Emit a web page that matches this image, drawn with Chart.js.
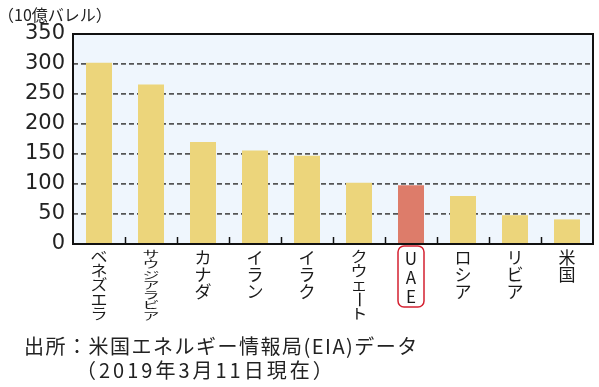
<!DOCTYPE html>
<html>
<head>
<meta charset="utf-8">
<script src="https://cdn.jsdelivr.net/npm/chart.js@4"></script>
<style>
  html, body { margin: 0; padding: 0; background: #fff; }
  #wrap { position: relative; width: 599px; height: 387px; }
</style>
</head>
<body>
<div id="wrap"><canvas id="oilChart" width="599" height="387"></canvas></div>
<script>
const countries = ["ベネズエラ", "サウジアラビア", "カナダ", "イラン", "イラク", "クウェート", "UAE", "ロシア", "リビア", "米国"];
const reserves = [302, 266, 170, 156, 147, 102, 98, 80, 48, 41];
const yTicks = [0, 50, 100, 150, 200, 250, 300, 350];
const unitLabel = "（10億バレル）";
const sourceLines = ["出所：米国エネルギー情報局(EIA)データ", "（2019年3月11日現在）"];
const highlight = "UAE";

const JP = "'Noto Sans CJK JP', 'Noto Sans', sans-serif";
const barColors = countries.map((c) => (c === highlight ? "#dd7c6a" : "#ecd57b"));

// plot frame, background, bottom tick marks, vertical labels and notes
const decor = {
  id: "decor",
  beforeDraw(chart) {
    const { ctx, chartArea: a } = chart;
    ctx.save();
    ctx.fillStyle = "#eff6fd";
    ctx.fillRect(a.left, a.top, a.right - a.left, a.bottom - a.top);
    ctx.restore();
  },
  afterDatasetsDraw(chart) {
    const { ctx, chartArea: a, scales } = chart;
    const x = scales.x;
    ctx.save();
    ctx.strokeStyle = "#111";
    ctx.lineWidth = 2;
    ctx.strokeRect(a.left, a.top, a.right - a.left, a.bottom - a.top);
    ctx.lineWidth = 1.5;
    for (let i = 1; i < countries.length; i++) {
      const px = Math.round((x.getPixelForValue(i - 1) + x.getPixelForValue(i)) / 2) + 0.5;
      ctx.beginPath();
      ctx.moveTo(px, a.bottom);
      ctx.lineTo(px, a.bottom - 7);
      ctx.stroke();
    }

    // vertical category labels
    ctx.fillStyle = "#1a1a1a";
    ctx.textAlign = "center";
    ctx.textBaseline = "middle";
    ctx.font = "17px " + JP;
    countries.forEach((name, i) => {
      const cx = x.getPixelForValue(i);
      const chars = Array.from(name);
      const step = name === highlight ? 19 : Math.min(17, 72 / chars.length);
      const sy = name === highlight ? 1 : step / 17;
      const top = a.bottom + 5;
      chars.forEach((ch, k) => {
        const cy = top + step * k + step / 2;
        ctx.save();
        ctx.translate(cx, cy);
        if (ch === "ー") {
          ctx.rotate(Math.PI / 2);
        } else {
          ctx.scale(1, sy);
        }
        ctx.fillText(ch, 0, 0);
        ctx.restore();
      });
      if (name === highlight) {
        const h = step * chars.length + 4;
        ctx.save();
        ctx.strokeStyle = "#d42030";
        ctx.lineWidth = 1.5;
        ctx.beginPath();
        ctx.roundRect(cx - 13, top - 3, 26, h, 6);
        ctx.stroke();
        ctx.restore();
      }
    });

    // unit and source notes
    ctx.textAlign = "left";
    ctx.textBaseline = "middle";
    ctx.fillStyle = "#222";
    ctx.font = "16px " + JP;
    ctx.fillText(unitLabel, -2, 15);
    ctx.font = "20px " + JP;
    ctx.letterSpacing = "1.5px";
    ctx.fillText(sourceLines[0], 24, 346);
    ctx.letterSpacing = "3px";
    ctx.fillText(sourceLines[1], 76, 370);
    ctx.restore();
  },
};

new Chart(document.getElementById("oilChart"), {
  type: "bar",
  data: {
    labels: countries,
    datasets: [
      {
        label: "確認埋蔵量",
        data: reserves,
        backgroundColor: barColors,
        borderWidth: 0,
        barPercentage: 0.5,
        categoryPercentage: 1,
      },
    ],
  },
  options: {
    responsive: false,
    animation: false,
    layout: { padding: { top: 34, right: 6, bottom: 143, left: 0 } },
    plugins: { legend: { display: false }, tooltip: { enabled: false } },
    scales: {
      x: {
        grid: { display: false },
        border: { display: false },
        ticks: { display: false },
        afterFit(scale) {
          scale.height = 0;
        },
      },
      y: {
        min: 0,
        max: 350,
        afterBuildTicks(scale) {
          scale.ticks = yTicks.map((v) => ({ value: v }));
        },
        afterFit(scale) {
          scale.width = 73;
        },
        border: { display: false, dash: [5, 3] },
        grid: {
          drawTicks: false,
          color: (c) => (c.tick && (c.tick.value === 0 || c.tick.value === 350) ? "rgba(0,0,0,0)" : "#555"),
          lineWidth: 1.8,
        },
        ticks: {
          color: "#222",
          padding: 8,
          font: { size: 21, family: "'DejaVu Sans', sans-serif" },
        },
      },
    },
  },
  plugins: [decor],
});
</script>
</body>
</html>
